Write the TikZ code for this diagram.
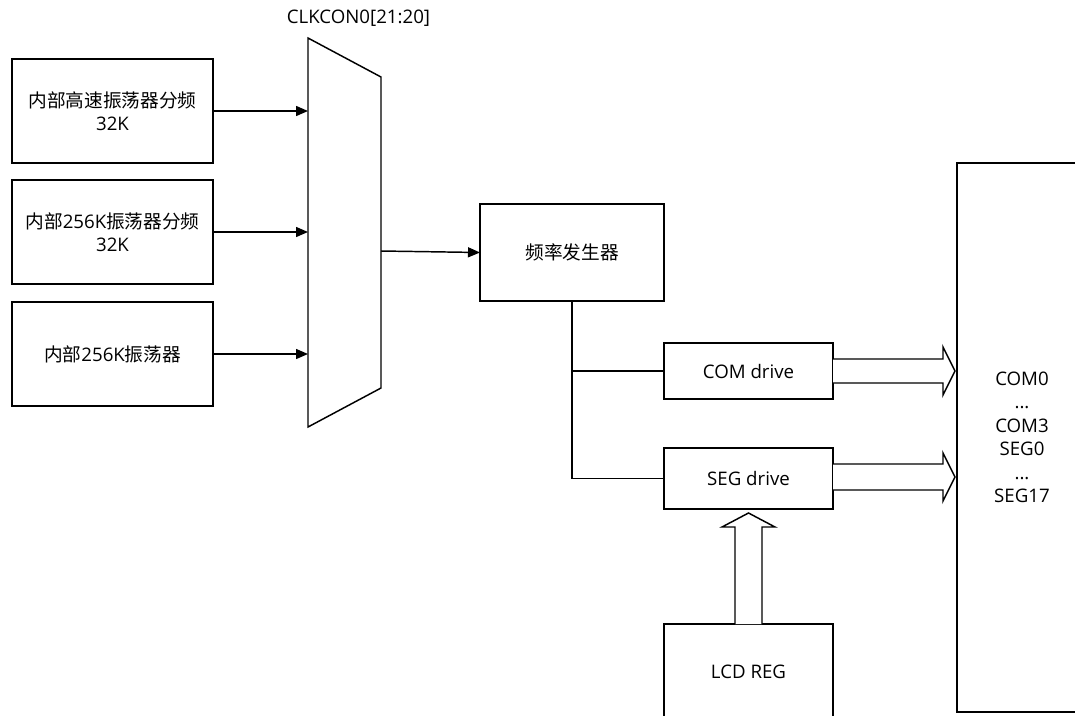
\documentclass[tikz,border=0pt]{standalone}
\usepackage{fontspec}
\setmainfont{Open Sans}
\newfontfamily\cjk{Noto Sans CJK SC}
\usetikzlibrary{arrows.meta}
\begin{document}
\begin{tikzpicture}[x=0.75pt,y=-0.75pt,
  every node/.style={font=\fontsize{14}{17.5}\selectfont},
  blk/.style={draw,line width=1.1pt,inner sep=0pt,outer sep=0pt,align=center,fill=white},
  ln/.style={line width=1.1pt},
  arr/.style={line width=1.1pt,-{Triangle[length=9pt,width=7.5pt]}},
  fat/.style={line width=1.1pt,fill=white,line join=miter}]
\useasboundingbox[fill=white] (0,0) rectangle (1075,715);
\clip (0,0) rectangle (1075,715);
% source boxes
\node[blk,minimum width=150.75pt,minimum height=78pt] (b1) at (112.5,111) {{\cjk 内部高速振荡器分频}\\32K};
\node[blk,minimum width=150.75pt,minimum height=78pt] (b2) at (112.5,232) {{\cjk 内部}256K{\cjk 振荡器分频}\\32K};
\node[blk,minimum width=150.75pt,minimum height=78pt] (b3) at (112.5,354) {{\cjk 内部}256K{\cjk 振荡器}};
% mux
\draw[ln,line join=miter] (308,38) -- (381,77) -- (381,388) -- (308,427) -- cycle;
\node (clk) at (358.5,18) {CLKCON0[21:20]};
\coordinate (m1) at (308,111);
\coordinate (m2) at (308,232);
\coordinate (m3) at (308,354);
\coordinate (mo) at (381,251);
\draw[arr] (b1.east) -- (m1);
\draw[arr] (b2.east) -- (m2);
\draw[arr] (b3.east) -- (m3);
% frequency generator
\node[blk,minimum width=138pt,minimum height=72.75pt] (freq) at (572,252.5) {\cjk 频率发生器};
\draw[arr] (mo) -- (freq.west);
% drivers
\node[blk,minimum width=126.75pt,minimum height=42pt] (com) at (748.5,371) {COM drive};
\node[blk,minimum width=126.75pt,minimum height=45.75pt] (seg) at (748.5,478.5) {SEG drive};
\draw[ln] (freq.south) |- (seg.west);
\draw[ln] (freq.south |- com.west) -- (com.west);
% LCD REG
\node[blk,minimum width=126.75pt,minimum height=72pt] (lcd) at (748.5,672) {LCD REG};
% right block
\node[blk,minimum width=97.5pt,minimum height=411.75pt,font=\fontsize{14}{17.6}\selectfont] (out) at (1022,437.5) {COM0\\...\\COM3\\SEG0\\...\\SEG17};
% fat arrows
\draw[fat] (com.east) ++(0,-12) -- ++(110,0) -- ++(0,-12) -- ++(12,24) -- ++(-12,24) -- ++(0,-12) -- ++(-110,0);
\draw[fat] (seg.east) ++(0,-14.5) -- ++(110,0) -- ++(0,-11) -- ++(12,24) -- ++(-12,24) -- ++(0,-11) -- ++(-110,0);
\draw[fat] (lcd.north) ++(-13.5,0) -- ++(0,-97) -- ++(-13,0) -- ++(26.5,-14) -- ++(26.5,14) -- ++(-13,0) -- ++(0,97);
\end{tikzpicture}
\end{document}
